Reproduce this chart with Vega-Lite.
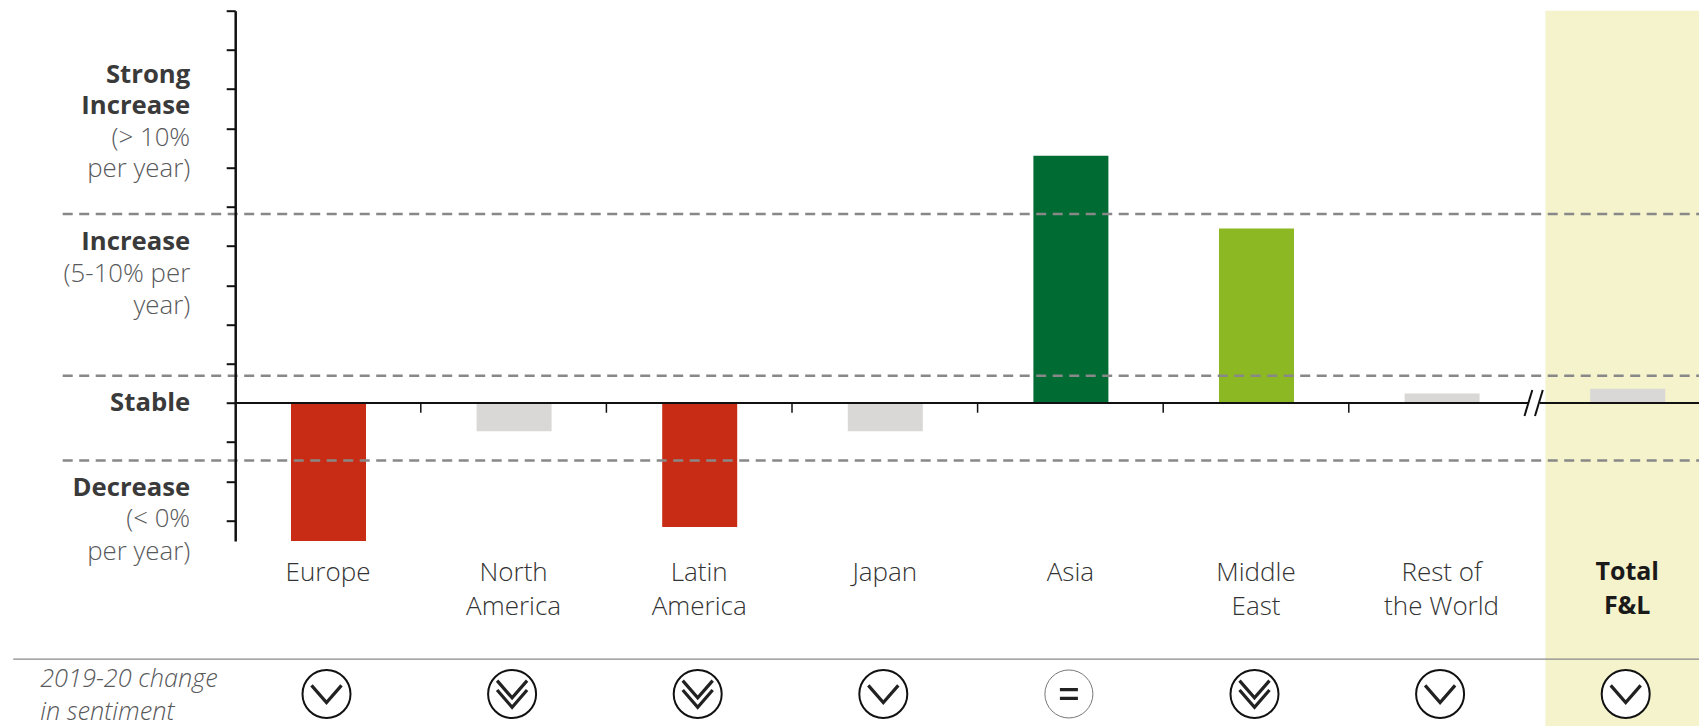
{
"$schema":"https://vega.github.io/schema/vega-lite/v6.json",
"width":1463.8,"height":530.3,"autosize":{"type":"none"},
"padding":{"left":235.2,"top":10.7,"right":0,"bottom":185},
"background":"white",
"config":{"view":{"stroke":null},"font":"Open Sans"},
"datasets":{
"regions":[
{"region":"Europe","value":-3.52,"rating":"Decrease","sentiment":"down"},
{"region":"North America","value":-0.72,"rating":"Stable","sentiment":"double down"},
{"region":"Latin America","value":-3.16,"rating":"Decrease","sentiment":"double down"},
{"region":"Japan","value":-0.72,"rating":"Stable","sentiment":"down"},
{"region":"Asia","value":6.3,"rating":"Strong Increase","sentiment":"equal"},
{"region":"Middle East","value":4.45,"rating":"Increase","sentiment":"double down"},
{"region":"Rest of the World","value":0.24,"rating":"Stable","sentiment":"down"},
{"region":"Total F&L","value":0.36,"rating":"Stable","sentiment":"down"}],
"thresholds":[{"level":4.82},{"level":0.69},{"level":-1.47}],
"scaleHeads":[
{"text":"Strong","level":8.36},
{"text":"Increase","level":7.56},
{"text":"Increase","level":4.1},
{"text":"Stable","level":0},
{"text":"Decrease","level":-2.17}],
"scaleNotes":[
{"text":"(> 10%","level":6.76},
{"text":"per year)","level":5.97},
{"text":"(5-10% per","level":3.29},
{"text":"year)","level":2.46},
{"text":"(< 0%","level":-2.97},
{"text":"per year)","level":-3.8}]
},
"layer":[
{"data":{"values":[{"region":"Total F&L","top":10,"bottom":-8.24}]},
 "mark":{"type":"bar","width":185.6,"xOffset":11,"color":"#f4f3cb"},
 "encoding":{
  "x":{"field":"region","type":"nominal","title":null,
   "scale":{"domain":["Europe","North America","Latin America","Japan","Asia","Middle East","Rest of the World","Total F&L"],"range":[0,1484.8],"paddingInner":0,"paddingOuter":0},
   "axis":{"domain":false,"ticks":false,"zindex":1,"labelAngle":0,"labelPadding":156.5,"offset":-138,"labelFont":"Open Sans","labelFontSize":{"condition":{"test":"datum.label=='Total F&L'","value":25},"value":26},"labelLineHeight":34,"labelLimit":0,"labelOverlap":false,"labelBaseline":"top","labelColor":{"condition":{"test":"datum.label=='Total F&L'","value":"#1a1a1a"},"value":"#333333"},"labelFontWeight":{"condition":{"test":"datum.label=='Total F&L'","value":"bold"},"value":300},
    "labelExpr":"datum.label=='North America'?['North','America']:datum.label=='Latin America'?['Latin','America']:datum.label=='Middle East'?['Middle','East']:datum.label=='Rest of the World'?['Rest of','the World']:datum.label=='Total F&L'?['Total','F&L']:datum.label"}},
  "y":{"field":"top","type":"quantitative","title":null,
   "scale":{"domain":[-3.52,10],"nice":false,"zero":false},
   "axis":{"values":[-3,-2,-1,0,1,2,3,4,5,6,7,8,9,10],"labels":false,"tickSize":9,"tickWidth":2,"tickColor":"#111111","domainColor":"#111111","domainWidth":2.5,"grid":false,"zindex":1}},
  "y2":{"field":"bottom"}}},
{"data":{"name":"regions"},
 "mark":{"type":"bar","width":75,"xOffset":0.5},
 "encoding":{
  "x":{"field":"region","type":"nominal"},
  "y":{"field":"value","type":"quantitative"},
  "y2":{"datum":0},
  "color":{"field":"rating","type":"nominal","legend":null,"scale":{"domain":["Decrease","Stable","Increase","Strong Increase"],"range":["#c92c15","#d9d8d6","#8cb823","#006b33"]}}}},
{"data":{"name":"thresholds"},
 "mark":{"type":"rule","color":"#888888","strokeWidth":2.5,"strokeDash":[10,6.5]},
 "encoding":{"y":{"field":"level","type":"quantitative"},"x":{"value":-172.5},"x2":{"value":1464}}},
{"data":{"values":[{"level":0}]},
 "mark":{"type":"rule","color":"#111111","strokeWidth":2},
 "encoding":{"y":{"field":"level","type":"quantitative"}}},
{"data":{"values":[{"region":"North America"},{"region":"Latin America"},{"region":"Japan"},{"region":"Asia"},{"region":"Middle East"},{"region":"Rest of the World"}]},
 "mark":{"type":"rule","color":"#111111","strokeWidth":1.5},
 "encoding":{"x":{"field":"region","type":"nominal","bandPosition":0},"y":{"datum":0},"y2":{"datum":-0.25}}},
{"data":{"values":[{"region":"Total F&L","level":0}]},
 "mark":{"type":"point","filled":true,"color":"white","opacity":1,"size":121,"shape":"M-1,-0.4H1V0.4H-1Z","xOffset":0},
 "encoding":{"x":{"field":"region","type":"nominal","bandPosition":0},"y":{"field":"level","type":"quantitative"}}},
{"data":{"values":[{"region":"Total F&L","level":0}]},
 "mark":{"type":"point","filled":false,"color":"#111111","opacity":1,"strokeWidth":2,"size":676,"shape":"M-0.3,1L0.3,-1","xOffset":-6},
 "encoding":{"x":{"field":"region","type":"nominal","bandPosition":0},"y":{"field":"level","type":"quantitative"}}},
{"data":{"values":[{"region":"Total F&L","level":0}]},
 "mark":{"type":"point","filled":false,"color":"#111111","opacity":1,"strokeWidth":2,"size":676,"shape":"M-0.3,1L0.3,-1","xOffset":4.5},
 "encoding":{"x":{"field":"region","type":"nominal","bandPosition":0},"y":{"field":"level","type":"quantitative"}}},
{"data":{"name":"scaleHeads"},
 "mark":{"type":"text","align":"right","baseline":"middle","fontSize":25.7,"fontWeight":"bold","color":"#3a3a3a","xOffset":-45},
 "encoding":{
  "x":{"datum":"Europe","type":"nominal","bandPosition":0},
  "y":{"field":"level","type":"quantitative"},
  "text":{"field":"text"}}},
{"data":{"name":"scaleNotes"},
 "mark":{"type":"text","align":"right","baseline":"middle","fontSize":25.8,"fontWeight":300,"color":"#58595b","xOffset":-45},
 "encoding":{
  "x":{"datum":"Europe","type":"nominal","bandPosition":0},
  "y":{"field":"level","type":"quantitative"},
  "text":{"field":"text"}}},
{"data":{"values":[{"level":-6.53}]},
 "mark":{"type":"rule","color":"#888888","strokeWidth":1.3},
 "encoding":{"y":{"field":"level","type":"quantitative"},"x":{"value":-222},"x2":{"value":1464}}},
{"data":{"values":[{"text":"2019-20 change","level":-7.04},{"text":"in sentiment","level":-7.88}]},
 "mark":{"type":"text","align":"left","baseline":"middle","fontSize":25.3,"fontStyle":"italic","fontWeight":300,"color":"#58595b","xOffset":-195},
 "encoding":{"x":{"datum":"Europe","type":"nominal","bandPosition":0},"y":{"field":"level","type":"quantitative"},"text":{"field":"text"}}},
{"data":{"name":"regions"},
 "mark":{"type":"point","shape":"circle","filled":false,"fill":"white","fillOpacity":1,"opacity":1,"size":2304,"xOffset":-1.5},
 "encoding":{
  "x":{"field":"region","type":"nominal"},
  "y":{"datum":-7.42},
  "stroke":{"condition":{"test":"datum.sentiment=='equal'","value":"#777777"},"value":"#111111"},
  "strokeWidth":{"condition":{"test":"datum.sentiment=='equal'","value":1},"value":2}}},
{"data":{"name":"regions"},
 "mark":{"type":"point","filled":false,"opacity":1,"size":2304,"strokeWidth":3.2,"color":"#222222","xOffset":-1.5},
 "encoding":{
  "x":{"field":"region","type":"nominal"},
  "y":{"datum":-7.42},
  "shape":{"field":"sentiment","type":"nominal","legend":null,"scale":{"domain":["down","double down","equal"],"range":["M-0.625,-0.36L0,0.36L0.625,-0.36","M-0.625,-0.556L0,0.164L0.625,-0.556M-0.625,-0.164L0,0.556L0.625,-0.164","M-0.375,-0.18H0.375M-0.375,0.18H0.375"]}}}}
]
}
